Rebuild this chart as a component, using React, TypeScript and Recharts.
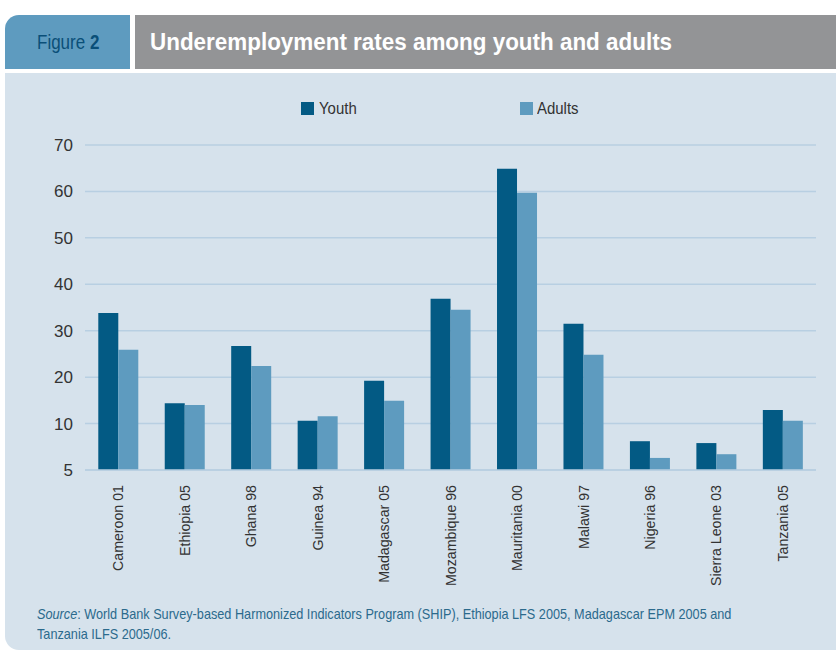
import React from 'react';
import { BarChart, Bar, XAxis, YAxis, CartesianGrid } from 'recharts';

// Survey (country + year)
const countries = [
    'Cameroon 01', 'Ethiopia 05', 'Ghana 98', 'Guinea 94', 'Madagascar 05', 'Mozambique 96',
    'Mauritania 00', 'Malawi 97', 'Nigeria 96', 'Sierra Leone 03', 'Tanzania 05'
];
const youthRates = [33.8, 14.4, 26.7, 10.6, 19.2, 36.9, 64.9, 31.5, 6.2, 5.8, 12.9];
const adultRates = [25.9, 14.0, 22.4, 11.6, 14.9, 34.5, 59.7, 24.8, 2.6, 3.4, 10.6];
const yTicks = [0, 10, 20, 30, 40, 50, 60, 70];
// the source labels its baseline "5"
const yTickLabels = ['5', '10', '20', '30', '40', '50', '60', '70'];

const YOUTH = '#035a84';
const ADULTS = '#5e9bbf';
const PANEL = '#d6e2ec';
const GRID = '#b8cfe2';
const SANS = '"Liberation Sans", Arial, sans-serif';

const data = countries.map((name, i) => ({ name, youth: youthRates[i], adults: adultRates[i] }));

const CountryTick = (props: any) => {
    const { x, y, payload } = props;
    const top = y + 7;
    return (
        <text
            x={x}
            y={top}
            dy="0.36em"
            transform={`rotate(-90, ${x}, ${top})`}
            textAnchor="end"
            fill="#333"
            fontSize={14.2}
            fontFamily={SANS}
        >
            {payload.value}
        </text>
    );
};

// squeezed text, the original uses a condensed face
const narrow = (sx: number): React.CSSProperties => ({
    transform: `scaleX(${sx})`,
    transformOrigin: 'left center',
    whiteSpace: 'nowrap'
});

const LegendBox = () => (
    <div style={{ position: 'absolute', top: 100, left: 0, width: 836, height: 20, fontFamily: SANS, fontSize: 17, color: '#333' }}>
        <div style={{ position: 'absolute', left: 301, top: 2, width: 13, height: 13, background: YOUTH }} />
        <div style={{ position: 'absolute', left: 319, top: -1, ...narrow(0.88) }}>Youth</div>
        <div style={{ position: 'absolute', left: 520, top: 2, width: 13, height: 13, background: ADULTS }} />
        <div style={{ position: 'absolute', left: 537, top: -1, ...narrow(0.88) }}>Adults</div>
    </div>
);

const App = () => {
    return (
        <div style={{ position: 'absolute', left: 0, top: 0, width: 836, height: 654, background: '#fff', overflow: 'hidden' }}>
            {/* header tab + title bar */}
            <div style={{
                position: 'absolute', left: 5, top: 15, width: 125, height: 54, background: ADULTS,
                borderTopLeftRadius: 14
            }}>
                <div style={{
                    position: 'absolute', left: 32, top: 16, fontFamily: SANS, fontSize: 20, color: '#0a4f78',
                    ...narrow(0.85)
                }}>
                    Figure <b>2</b>
                </div>
            </div>
            <div style={{ position: 'absolute', left: 135, top: 15, width: 701, height: 54, background: '#939496' }}>
                <div style={{
                    position: 'absolute', left: 15, top: 14, fontFamily: SANS, fontWeight: 'bold', fontSize: 23,
                    color: '#fff', ...narrow(0.975)
                }}>
                    Underemployment rates among youth and adults
                </div>
            </div>

            {/* panel */}
            <div style={{ position: 'absolute', left: 5, top: 73, width: 831, height: 577, background: PANEL, borderBottomLeftRadius: 14 }} />

            <LegendBox />

            <div style={{ position: 'absolute', left: 0, top: 80 }}>
                <BarChart
                    width={836}
                    height={520}
                    data={data}
                    margin={{ top: 65, right: 20, left: 0, bottom: 0 }}
                    barCategoryGap="20%"
                    barGap={0}
                >
                    <CartesianGrid vertical={false} stroke={GRID} strokeWidth={1.5} />
                    <XAxis
                        dataKey="name"
                        interval={0}
                        height={130}
                        tickLine={false}
                        axisLine={{ stroke: GRID, strokeWidth: 1.5 }}
                        tick={<CountryTick />}
                    />
                    <YAxis
                        width={85}
                        domain={[0, 70]}
                        ticks={yTicks}
                        tickFormatter={(v: number) => yTickLabels[yTicks.indexOf(v)]}
                        axisLine={false}
                        tickLine={false}
                        tickMargin={6}
                        tick={{ fill: '#333', fontSize: 17, fontFamily: SANS }}
                    />
                    <Bar dataKey="youth" name="Youth" fill={YOUTH} isAnimationActive={false} />
                    <Bar dataKey="adults" name="Adults" fill={ADULTS} isAnimationActive={false} />
                </BarChart>
            </div>

            {/* source note */}
            <div style={{
                position: 'absolute', left: 37, top: 604, fontFamily: SANS, fontSize: 14.5,
                lineHeight: '20px', color: '#2b6a8c', ...narrow(0.875)
            }}>
                <div><i>Source</i>: World Bank Survey-based Harmonized Indicators Program (SHIP), Ethiopia LFS 2005, Madagascar EPM 2005 and</div>
                <div>Tanzania ILFS 2005/06.</div>
            </div>
        </div>
    );
};

export default App;
